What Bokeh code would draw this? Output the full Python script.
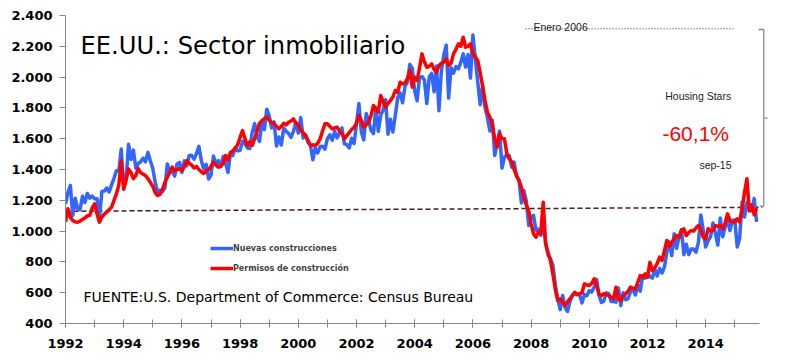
from bokeh.plotting import figure
from bokeh.models import FixedTicker, Legend, LegendItem, Label
from bokeh.embed import file_html
from bokeh.resources import INLINE

# ---------------- DATA ----------------
start_year = 1992
# Housing starts (thousands, SAAR), monthly Jan-1992 .. Oct-2015
nuevas_construcciones = [
    1176, 1250, 1297, 1099, 1214, 1145, 1139, 1226, 1186, 1244, 1214, 1227,  # 1992
    1210, 1210, 1083, 1258, 1260, 1280, 1254, 1300, 1343, 1392, 1392, 1533,  # 1993
    1272, 1337, 1564, 1465, 1526, 1409, 1439, 1450, 1474, 1450, 1511, 1455,  # 1994
    1407, 1316, 1249, 1267, 1257, 1280, 1436, 1380, 1391, 1357, 1436, 1446,  # 1995
    1381, 1456, 1424, 1491, 1492, 1467, 1503, 1550, 1458, 1403, 1434, 1338,  # 1996
    1364, 1487, 1441, 1458, 1419, 1484, 1441, 1381, 1500, 1492, 1540, 1521,  # 1997
    1525, 1584, 1567, 1540, 1536, 1641, 1698, 1614, 1582, 1715, 1660, 1792,  # 1998
    1748, 1670, 1710, 1553, 1611, 1559, 1669, 1648, 1635, 1608, 1648, 1708,  # 1999
    1636, 1737, 1604, 1626, 1575, 1559, 1463, 1541, 1507, 1549, 1551, 1532,  # 2000
    1600, 1625, 1590, 1649, 1605, 1636, 1670, 1567, 1562, 1540, 1602, 1568,  # 2001
    1698, 1829, 1642, 1592, 1764, 1717, 1655, 1633, 1804, 1648, 1753, 1788,  # 2002
    1853, 1629, 1726, 1643, 1751, 1867, 1897, 1833, 1939, 1967, 2083, 2057,  # 2003
    1911, 1846, 1998, 2003, 1981, 1828, 2002, 2024, 1905, 2072, 1782, 2042,  # 2004
    2144, 2207, 1864, 2061, 2025, 2068, 2054, 2095, 2151, 2065, 2147, 1994,  # 2005
    2273, 2119, 1969, 1821, 1942, 1802, 1737, 1650, 1720, 1491, 1570, 1649,  # 2006
    1409, 1480, 1495, 1490, 1415, 1448, 1354, 1330, 1183, 1264, 1197, 1037,  # 2007
    1084, 1103, 1005, 1013, 973, 1046, 923, 844, 820, 777, 652, 560,         # 2008
    490, 582, 505, 478, 540, 585, 594, 586, 585, 534, 588, 581,              # 2009
    614, 604, 636, 687, 583, 536, 546, 599, 594, 543, 545, 539,              # 2010
    630, 517, 600, 554, 561, 608, 623, 585, 650, 610, 711, 694,              # 2011
    723, 704, 695, 753, 708, 757, 728, 768, 863, 930, 841, 983,              # 2012
    888, 962, 1010, 847, 915, 847, 883, 883, 864, 927, 1105, 1003,           # 2013
    897, 938, 963, 1052, 987, 909, 1085, 964, 1025, 1074, 1003, 1070,        # 2014
    1072, 897, 954, 1189, 1091, 1185, 1137, 1132, 1211, 1060,                # 2015
]
# Building permits (thousands, SAAR), monthly Jan-1992 .. Oct-2015
permisos_construccion = [
    1060, 1145, 1090, 1069, 1060, 1058, 1065, 1075, 1085, 1100, 1101, 1150,  # 1992
    1177, 1112, 1058, 1090, 1110, 1123, 1140, 1155, 1200, 1242, 1300, 1458,  # 1993
    1275, 1330, 1404, 1380, 1341, 1360, 1406, 1380, 1370, 1361, 1340, 1317,  # 1994
    1290, 1250, 1231, 1240, 1270, 1317, 1350, 1380, 1415, 1390, 1400, 1405,  # 1995
    1393, 1420, 1458, 1440, 1430, 1410, 1420, 1400, 1385, 1374, 1390, 1400,  # 1996
    1420, 1447, 1430, 1415, 1420, 1440, 1491, 1460, 1512, 1520, 1540, 1560,  # 1997
    1610, 1653, 1600, 1556, 1580, 1556, 1600, 1650, 1700, 1718, 1730, 1740,  # 1998
    1720, 1705, 1697, 1680, 1664, 1680, 1700, 1690, 1707, 1715, 1729, 1700,  # 1999
    1690, 1653, 1640, 1620, 1590, 1556, 1560, 1556, 1570, 1600, 1650, 1697,  # 2000
    1697, 1680, 1664, 1670, 1675, 1650, 1632, 1600, 1620, 1640, 1660, 1675,  # 2001
    1700, 1750, 1720, 1675, 1690, 1707, 1750, 1816, 1790, 1772, 1880, 1840,  # 2002
    1805, 1830, 1848, 1870, 1913, 1902, 1967, 1956, 1960, 1990, 2043, 1935,  # 2003
    2000, 1978, 2060, 2151, 2100, 2064, 2070, 2086, 2050, 2032, 2075, 2090,  # 2004
    2097, 2120, 2075, 2090, 2151, 2180, 2216, 2200, 2259, 2194, 2200, 2216,  # 2005
    2151, 2130, 2108, 2030, 1940, 1848, 1772, 1740, 1697, 1600, 1545, 1632,  # 2006
    1600, 1600, 1502, 1469, 1450, 1400, 1361, 1330, 1285, 1220, 1170, 1134,  # 2007
    1047, 982, 960, 993, 985, 1188, 918, 860, 809, 720, 620, 549,            # 2008
    560, 540, 517, 540, 560, 580, 603, 590, 593, 600, 658, 650,              # 2009
    647, 660, 690, 650, 590, 582, 593, 588, 582, 571, 560, 636,              # 2010
    560, 549, 580, 593, 610, 636, 630, 625, 668, 711, 700, 722,              # 2011
    700, 798, 744, 760, 790, 831, 810, 874, 939, 900, 928, 950,              # 2012
    971, 960, 1000, 1015, 971, 990, 1004, 1000, 1020, 1036, 1010, 960,       # 2013
    950, 1015, 1000, 1004, 1036, 1030, 1036, 1015, 1050, 1112, 1069, 1060,   # 2014
    1060, 1080, 1060, 1140, 1250, 1340, 1130, 1170, 1105, 1150,              # 2015
]
fechas = [start_year + i / 12 for i in range(len(nuevas_construcciones))]

y_ticks = [400, 600, 800, 1000, 1200, 1400, 1600, 1800, 2000, 2200, 2400]
y_tick_labels = ["400", "600", "800", "1.000", "1.200", "1.400", "1.600",
                 "1.800", "2.000", "2.200", "2.400"]
x_ticks = list(range(1992, 2015, 2))
x_tick_labels = [str(y) for y in x_ticks]
x_minor_ticks = list(range(1992, 2016))

# reference (dashed) line and annotation values
linea_ref_x = [1992.0, 2015.95]
linea_ref_y = [1129, 1155]
enero_2006_x = [2007.81, 2014.955]
enero_2006_y = [2313.6, 2313.6]

# ---------------- FIGURE ----------------
X_END = start_year + len(fechas) / 12.0
p = figure(width=792, height=356, output_backend="svg", toolbar_location=None,
           x_range=(1992, 2016.914), y_range=(400, 2432.5),
           min_border_left=65, min_border_right=2, min_border_top=10,
           min_border_bottom=33)
p.outline_line_color = None
p.grid.visible = False
p.background_fill_color = "white"
p.border_fill_color = "white"

axis_col = "#868686"
# x axis
p.xaxis.ticker = FixedTicker(ticks=x_ticks, minor_ticks=x_minor_ticks)
p.xaxis.major_label_overrides = {t: l for t, l in zip(x_ticks, x_tick_labels)}
p.xaxis.bounds = (1992, X_END)
p.xaxis.axis_line_color = axis_col
p.xaxis.major_tick_line_color = axis_col
p.xaxis.minor_tick_line_color = axis_col
p.xaxis.major_tick_in = 4
p.xaxis.major_tick_out = 4
p.xaxis.minor_tick_in = 4
p.xaxis.minor_tick_out = 4
p.xaxis.major_label_standoff = 11
p.xaxis.major_label_text_font = "DejaVu Sans"
p.xaxis.major_label_text_font_size = "13px"
p.xaxis.major_label_text_font_style = "bold"
p.xaxis.major_label_text_color = "black"

# y axis
p.yaxis.ticker = FixedTicker(ticks=y_ticks)
p.yaxis.major_label_overrides = {t: l for t, l in zip(y_ticks, y_tick_labels)}
p.yaxis.bounds = (400, 2400)
p.yaxis.axis_line_color = axis_col
p.yaxis.major_tick_line_color = axis_col
p.yaxis.minor_tick_line_color = None
p.yaxis.major_tick_in = 0
p.yaxis.major_tick_out = 6
p.yaxis.major_label_standoff = 7
p.yaxis.major_label_text_font = "DejaVu Sans"
p.yaxis.major_label_text_font_size = "13px"
p.yaxis.major_label_text_font_style = "bold"
p.yaxis.major_label_text_color = "black"

# reference dashed line
p.line(linea_ref_x, linea_ref_y, line_color="#4a1c1c", line_width=1.5, line_dash="5 3")

# series
r_blue = p.line(fechas, nuevas_construcciones, line_color="#3366FF", line_width=3.5,
                line_join="round")
r_red = p.line(fechas, permisos_construccion, line_color="#FF0000", line_width=3.5,
               line_join="round")

# dotted line "Enero 2006"
p.line(enero_2006_x, enero_2006_y, line_color="#333333", line_width=1, line_dash="1 2")

# bracket on the right
p.line([2015.814, 2015.996, 2015.996, 2015.849], [2309, 2309, 1162, 1162],
       line_color="#8c8c8c", line_width=1.3)
p.line([2015.996, 2016.124], [1733, 1733], line_color="#8c8c8c", line_width=1.3)

# legend
legend = Legend(items=[LegendItem(label="Nuevas construcciones", renderers=[r_blue]),
                       LegendItem(label="Permisos de construcción", renderers=[r_red])],
                location=(145, 45), orientation="vertical",
                glyph_width=23, glyph_height=20, label_height=20, label_standoff=0,
                spacing=0, padding=0, margin=0, border_line_color=None,
                background_fill_alpha=0, label_text_font="DejaVu Sans",
                label_text_font_size="8px", label_text_font_style="bold")
p.add_layout(legend, "center")

# texts
p.add_layout(Label(x=1992.515, y=2205, text="EE.UU.: Sector inmobiliario",
                   text_font="DejaVu Sans", text_font_size="24.2px",
                   text_baseline="alphabetic", text_align="left", text_color="black"))
p.add_layout(Label(x=1992.62, y=571, text="FUENTE:U.S. Department of Commerce: Census Bureau",
                   text_font="DejaVu Sans", text_font_size="14px",
                   text_baseline="alphabetic", text_align="left", text_color="black"))
p.add_layout(Label(x=2008.08, y=2328, text="Enero 2006",
                   text_font="Liberation Sans", text_font_size="10.5px",
                   text_baseline="alphabetic", text_align="left", text_color="#222222"))
p.add_layout(Label(x=2014.876, y=1880, text="Housing Stars",
                   text_font="Liberation Sans", text_font_size="10.5px",
                   text_baseline="alphabetic", text_align="right", text_color="#222222"))
p.add_layout(Label(x=2014.80, y=1632, text="-60,1%",
                   text_font="Liberation Sans", text_font_size="21px",
                   text_baseline="alphabetic", text_align="right", text_color="#FF0000"))
p.add_layout(Label(x=2014.887, y=1426, text="sep-15",
                   text_font="Liberation Sans", text_font_size="10.5px",
                   text_baseline="alphabetic", text_align="right", text_color="#222222"))

open("out.html", "w").write(file_html(p, INLINE))
